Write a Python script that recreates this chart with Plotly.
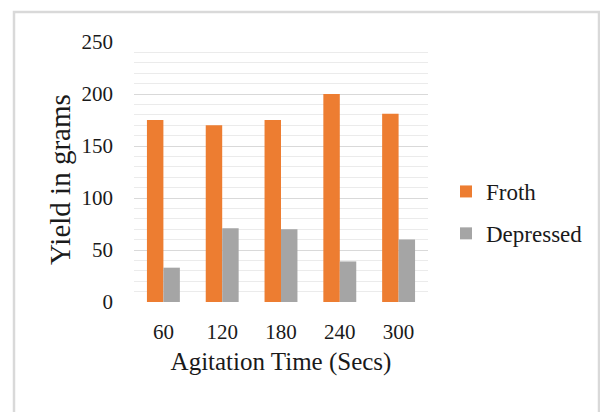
import plotly.graph_objects as go

# Agitation time categories (seconds) and yield per product stream (grams)
agitation_time = ["60", "120", "180", "240", "300"]
froth_yield = [175, 170, 175, 200, 181]
depressed_yield = [33, 71, 70, 39, 60]
y_ticks = [0, 50, 100, 150, 200, 250]

FONT = "Liberation Serif"
W, H = 600, 412
L, R, T, B = 134, 172, 42, 110  # plot-area margins in px

fig = go.Figure()
fig.add_trace(go.Bar(x=agitation_time, y=froth_yield, name="Froth",
                     marker=dict(color="#ED7D31", line=dict(width=0)),
                     legendgroup="a"))
fig.add_trace(go.Bar(x=agitation_time, y=depressed_yield, name="Depressed",
                     marker=dict(color="#A5A5A5", line=dict(width=0)),
                     legendgroup="b"))

# pixel positions converted to paper units
pw, ph = W - L - R, H - T - B
def px_x(p):
    return (p - L) / pw
def px_y(p):
    return (H - B - p) / ph

# light frame around the chart area
fig.add_shape(type="rect", xref="paper", yref="paper",
              x0=px_x(14), x1=px_x(599), y0=px_y(430), y1=px_y(12),
              line=dict(color="#d9d9d9", width=2.5), fillcolor="rgba(0,0,0,0)",
              layer="below")

# vertical axis title
fig.add_annotation(text="Yield in grams", xref="paper", yref="paper",
                   x=px_x(60), y=px_y(180), xanchor="center", yanchor="middle",
                   textangle=-90, showarrow=False,
                   font=dict(family=FONT, size=29, color="#1a1a1a"))

fig.update_layout(
    width=W, height=H,
    margin=dict(l=L, r=R, t=T, b=B, pad=0),
    paper_bgcolor="white", plot_bgcolor="white",
    barmode="group", bargap=0.44, bargroupgap=0,
    font=dict(family=FONT, color="#1a1a1a", size=21),
    showlegend=True,
    legend=dict(x=px_x(446), y=px_y(170), xanchor="left", yanchor="top",
                font=dict(family=FONT, size=23, color="#1a1a1a"),
                traceorder="grouped", tracegroupgap=9,
                bgcolor="rgba(0,0,0,0)", itemwidth=30),
    xaxis=dict(type="category", showgrid=False, showline=False, zeroline=False,
               ticks="", ticklabelstandoff=15,
               tickfont=dict(family=FONT, size=21),
               title=dict(text="Agitation Time (Secs)", standoff=9,
                          font=dict(family=FONT, size=25))),
    yaxis=dict(range=[0, 250], tickvals=y_ticks, showline=False, zeroline=False,
               showgrid=True, gridcolor="#d9d9d9", gridwidth=1.2,
               minor=dict(dtick=10, showgrid=True, gridcolor="#ebebeb", gridwidth=1),
               ticks="", ticklabelstandoff=20,
               tickfont=dict(family=FONT, size=21)),
)

fig.write_html("out.html")
